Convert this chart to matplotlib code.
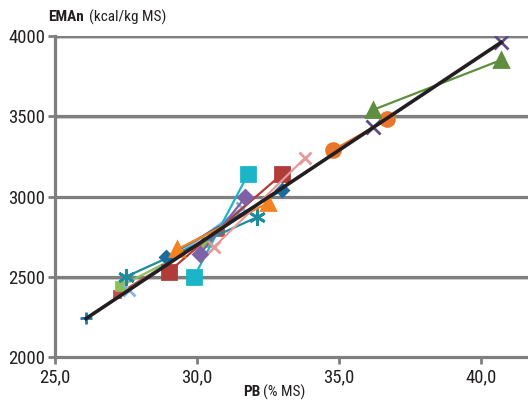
import numpy as np
import matplotlib
matplotlib.use("Agg")
import matplotlib.pyplot as plt

plt.rcParams['font.family'] = ['Roboto Condensed', 'Liberation Sans', 'DejaVu Sans']

# (PB % MS, EMAn kcal/kg MS) for each series
blue_plus_x = [26.1]
blue_plus_y = [2240]
dia_blue_x = [28.9, 33.0]
dia_blue_y = [2620, 3040]
sq_red_x = [29.0, 33.0]
sq_red_y = [2530, 3140]
tri_green_x = [36.2, 40.7]
tri_green_y = [3540, 3850]
x_purple_x = [36.2, 40.7]
x_purple_y = [3430, 3960]
star_teal_x = [27.5, 32.1]
star_teal_y = [2500, 2870]
circ_orange_x = [34.8, 36.7]
circ_orange_y = [3290, 3480]
x_lblue_x = [27.6, 31.6]
x_lblue_y = [2415, 2930]
x_pink_x = [30.6, 33.8]
x_pink_y = [2685, 3240]
dia_purple_x = [30.1, 31.7]
dia_purple_y = [2640, 2995]
sq_cyan_x = [29.9, 31.8]
sq_cyan_y = [2500, 3140]
tri_orange_x = [29.3, 32.5]
tri_orange_y = [2670, 2960]
lgreen_x = [27.3, 30.3]
lgreen_y = [2440, 2715]
lred_x = [27.2, 30.8]
lred_y = [2390, 2780]
trend_x = [26.1, 40.7]
trend_y = [2240, 3960]

fig = plt.figure(figsize=(5.28, 4.0), dpi=100)
ax = fig.add_axes([0.104, 0.1075, 0.896, 0.8025])

# gridlines with light shadow
for g in [2500, 3000, 3500, 4000]:
    ax.axhline(g - 12, color='#d4d4d4', lw=1.5, zorder=1)
    ax.axhline(g, color='#7f7f7f', lw=2.3, zorder=1)

series = [
    (lred_x, lred_y, '#c0504d', 's', 5),
    (lgreen_x, lgreen_y, '#8dbe5a', 's', 6),
    (x_lblue_x, x_lblue_y, '#8db3d8', 'x', 9),
    (star_teal_x, star_teal_y, '#1c8c9e', (6, 2, 0), 12),
    (dia_blue_x, dia_blue_y, '#1b6c9e', 'D', 6),
    (sq_red_x, sq_red_y, '#b03c3a', 's', 10),
    (sq_cyan_x, sq_cyan_y, '#1bb5c8', 's', 10),
    (dia_purple_x, dia_purple_y, '#7e62a8', 'D', 7),
    (tri_orange_x, tri_orange_y, '#f58220', '^', 10),
    (x_pink_x, x_pink_y, '#e59a9a', 'x', 9),
    (circ_orange_x, circ_orange_y, '#e9762b', 'o', 10),
    (tri_green_x, tri_green_y, '#5e8e3e', '^', 10),
    (x_purple_x, x_purple_y, '#5e4a86', 'x', 10),
    (blue_plus_x, blue_plus_y, '#1f73b8', '+', 9),
]
for xs, ys, c, m, s in series:
    ax.plot(xs, ys, color=c, lw=1.6, marker=m, ms=s, mew=2, mfc=c, mec=c, zorder=3)

ax.plot(trend_x, trend_y, color='#231f20', lw=2.6, zorder=4)

ax.set_xlim(25, 41.65)
ax.set_ylim(2000, 4000)
ax.set_xticks([25, 30, 35, 40])
ax.set_xticklabels(['25,0', '30,0', '35,0', '40,0'])
ax.set_yticks([2000, 2500, 3000, 3500, 4000])
ax.tick_params(axis='both', labelsize=13.5, labelcolor='#231f20', length=5, width=2,
               direction='out', color='#7f7f7f')
ax.tick_params(axis='x', pad=3)
ax.tick_params(axis='y', pad=2)

for sp in ['top', 'right']:
    ax.spines[sp].set_visible(False)
for sp in ['left', 'bottom']:
    ax.spines[sp].set_color('#7f7f7f')
    ax.spines[sp].set_linewidth(2.3)

fig.text(48 / 528, 1 - 17 / 400, 'EMAn', fontsize=11, fontweight='bold', va='center', color='#231f20')
fig.text(89 / 528, 1 - 17 / 400, '(kcal/kg MS)', fontsize=11, va='center', color='#231f20')
fig.text(243 / 528, 1 - 392 / 400, 'PB', fontsize=11, fontweight='bold', va='center', color='#231f20')
fig.text(263 / 528, 1 - 392 / 400, '(% MS)', fontsize=11, va='center', color='#231f20')

fig.savefig('out.png', dpi=100)
